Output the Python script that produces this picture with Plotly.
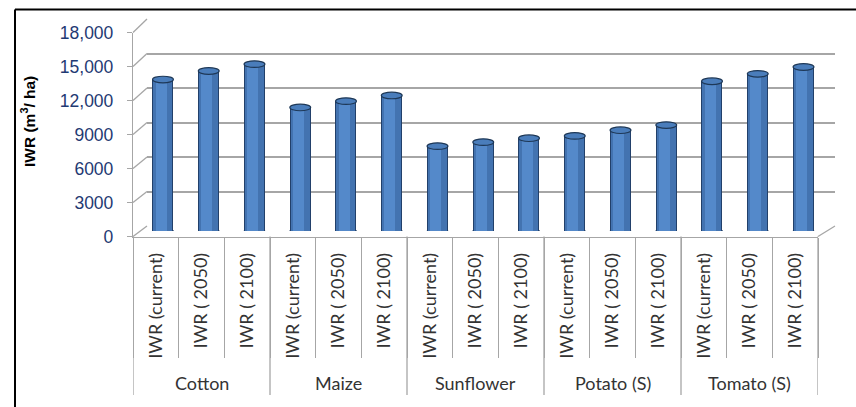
import plotly.graph_objects as go

# Irrigation water requirement (m3/ha) per crop and period
crops = ["Cotton", "Maize", "Sunflower", "Potato (S)", "Tomato (S)"]
periods = ["IWR (current)", "IWR ( 2050)", "IWR ( 2100)"]
iwr_current = [13300, 10850, 7450, 8350, 13150]
iwr_2050 = [14050, 11400, 7800, 8850, 13800]
iwr_2100 = [14650, 11900, 8150, 9300, 14400]

y_ticks = [0, 3000, 6000, 9000, 12000, 15000, 18000]
y_tick_text = ["0", "3000", "6000", "9000", "12,000", "15,000", "18,000"]
Y_MAX = 18000

# flatten crop x period into one row of columns
values, sub_labels = [], []
for c in range(len(crops)):
    for series in (iwr_current, iwr_2050, iwr_2100):
        values.append(series[c])
    sub_labels.extend(periods)
pos = list(range(len(values)))

W, H = 856, 407


def px_x(p):
    return p / W


def px_y(p):
    return 1 - p / H


# pixel frames: back wall, column depth plane, front plane
BACK = dict(x=(147, 835), y=(226, 19))
MID = dict(x=(140.1, 826.4), y=(231, 26))
FRONT = dict(x=(133, 818), y=(236.5, 32.5))


def dom_x(f):
    return [px_x(f["x"][0]), px_x(f["x"][1])]


def dom_y(f):
    return [px_y(f["y"][0]), px_y(f["y"][1])]


def frac(f, v):
    d = dom_y(f)
    return d[0] + (d[1] - d[0]) * v / Y_MAX


AX = "#A6A6A6"
BAR_W = 0.415

fig = go.Figure()

# back wall (gridlines only)
fig.add_trace(go.Scatter(x=[], y=[], xaxis="x", yaxis="y", hoverinfo="skip"))

# cylinder bodies: dark rim, body, highlight
fig.add_trace(go.Bar(x=pos, y=values, xaxis="x2", yaxis="y2", width=BAR_W + 0.045,
                     marker=dict(color="#22406A", line=dict(width=0))))
fig.add_trace(go.Bar(x=pos, y=values, xaxis="x2", yaxis="y2", width=BAR_W,
                     marker=dict(color="#4373B0", line=dict(width=0))))
fig.add_trace(go.Bar(x=pos, y=values, xaxis="x2", yaxis="y2", width=0.24, offset=-0.16,
                     marker=dict(color="#5489CA", line=dict(width=0))))

# front axes carrying the labels
fig.add_trace(go.Scatter(x=[], y=[], xaxis="x3", yaxis="y3", hoverinfo="skip"))

shapes = []
cap = 3.3 * Y_MAX / (MID["y"][0] - MID["y"][1])  # half-height of the elliptical caps
for p, v in zip(pos, values):
    # rounded bottom (half hidden behind the body)
    shapes.append(dict(type="circle", xref="x2", yref="y2", layer="below",
                       x0=p - BAR_W / 2 - 0.02, x1=p + BAR_W / 2 + 0.02, y0=-cap, y1=cap,
                       fillcolor="#4373B0", line=dict(color="#22406A", width=1)))
    # top cap
    shapes.append(dict(type="circle", xref="x2", yref="y2", layer="above",
                       x0=p - BAR_W / 2 - 0.02, x1=p + BAR_W / 2 + 0.02, y0=v - cap, y1=v + cap,
                       fillcolor="#4A7DBB", line=dict(color="#1E3857", width=1.2)))

# side-wall connectors from front ticks to back gridlines
for v in y_ticks:
    shapes.append(dict(type="line", xref="paper", yref="paper",
                       x0=px_x(FRONT["x"][0]), y0=frac(FRONT, v),
                       x1=px_x(BACK["x"][0]), y1=frac(BACK, v),
                       line=dict(color=AX, width=1.3)))
# right edge of the floor
shapes.append(dict(type="line", xref="paper", yref="paper",
                   x0=px_x(FRONT["x"][1]), y0=frac(FRONT, 0),
                   x1=px_x(BACK["x"][1]), y1=frac(BACK, 0),
                   line=dict(color=AX, width=1.3)))

# crop group dividers
n_per = len(periods)
for g in range(len(crops) + 1):
    b = g * n_per - 0.5
    shapes.append(dict(type="line", xref="x3", yref="paper", x0=b, x1=b,
                       y0=px_y(395), y1=px_y(FRONT["y"][0]),
                       line=dict(color=AX, width=1.3)))

# outer frame (top and left)
shapes.append(dict(type="line", xref="paper", yref="paper", x0=px_x(15), x1=1,
                   y0=px_y(9.5), y1=px_y(9.5), line=dict(color="black", width=2)))
shapes.append(dict(type="line", xref="paper", yref="paper", x0=px_x(15), x1=px_x(15),
                   y0=0, y1=px_y(9.5), line=dict(color="black", width=2)))

label_font = dict(family="Lato, Carlito, sans-serif", size=18, color="#333333")

annotations = []
for g, name in enumerate(crops):
    annotations.append(dict(text=name, xref="x3", yref="paper", x=g * n_per + 1,
                            y=px_y(383), showarrow=False, font=label_font,
                            xanchor="center", yanchor="middle"))
annotations.append(dict(text="<b>IWR (m<sup>3</sup>/ ha)</b>", xref="paper", yref="paper",
                        x=px_x(28), y=px_y(121), textangle=-90, showarrow=False,
                        font=dict(family="Liberation Sans, Arial, sans-serif", size=15.5,
                                  color="black"),
                        xanchor="center", yanchor="middle"))

fig.update_layout(
    width=W, height=H, autosize=False,
    margin=dict(l=0, r=0, t=0, b=0, pad=0),
    paper_bgcolor="white", plot_bgcolor="rgba(0,0,0,0)",
    showlegend=False, barmode="overlay", bargap=0,
    xaxis=dict(domain=dom_x(BACK), range=[0, 1], anchor="y", visible=False,
               automargin=False),
    yaxis=dict(domain=dom_y(BACK), range=[0, Y_MAX], anchor="x", automargin=False,
               tickmode="array", tickvals=y_ticks, showticklabels=False,
               showgrid=True, gridcolor=AX, gridwidth=2, zeroline=False, ticks=""),
    xaxis2=dict(domain=dom_x(MID), range=[-0.5, len(values) - 0.5], anchor="y2",
                visible=False, automargin=False),
    yaxis2=dict(domain=dom_y(MID), range=[0, Y_MAX], anchor="x2", visible=False,
                automargin=False),
    xaxis3=dict(domain=dom_x(FRONT), range=[-0.5, len(values) - 0.5], anchor="y3",
                automargin=False,
                showline=True, linecolor=AX, linewidth=1.3,
                tickmode="array", tickvals=pos, ticktext=sub_labels, tickangle=-90,
                ticks="", tickfont=label_font, ticklabelstandoff=8,
                showgrid=False, zeroline=False,
                minor=dict(tickmode="array",
                           tickvals=[p - 0.5 for p in pos] + [pos[-1] + 0.5],
                           ticks="outside", ticklen=120, tickcolor=AX, tickwidth=1.3,
                           showgrid=False)),
    yaxis3=dict(domain=dom_y(FRONT), range=[0, Y_MAX], anchor="x3", automargin=False,
                showline=True, linecolor=AX, linewidth=1.3,
                tickmode="array", tickvals=y_ticks, ticktext=y_tick_text,
                ticks="outside", ticklen=5, tickcolor=AX, tickwidth=1.3,
                ticklabelstandoff=10,
                tickfont=dict(family="Liberation Sans, Arial, sans-serif", size=17.5,
                              color="#1F3A73"),
                showgrid=False, zeroline=False),
    shapes=shapes,
    annotations=annotations,
)

fig.write_html("out.html")
